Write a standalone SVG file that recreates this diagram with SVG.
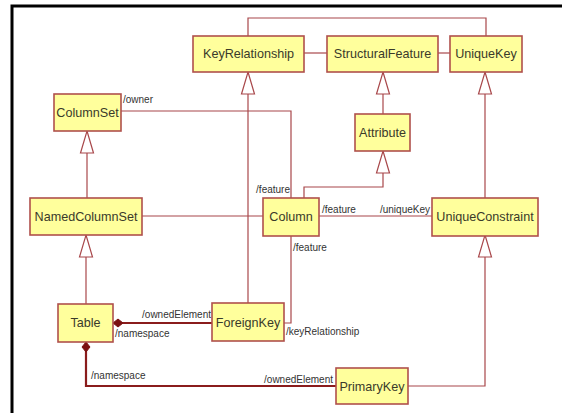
<svg xmlns="http://www.w3.org/2000/svg" width="562" height="413" viewBox="0 0 562 413">
  <style>
    .node rect { fill: #ffff9c; stroke: #b0504c; stroke-width: 1.6; }
    .node text { font-family: "Liberation Sans", Arial, sans-serif; font-size: 12.6px; fill: #3a3a2a; text-anchor: middle; }
    .conn { fill: none; stroke: #a8474a; stroke-width: 1.2; }
    .comp { fill: none; stroke: #8a1c1c; stroke-width: 2.2; }
    .gen { fill: #ffffff; stroke: #a8474a; stroke-width: 1.2; }
    .dia { fill: #7a1010; stroke: #7a1010; stroke-width: 1; }
    .lbl { font-family: "Liberation Sans", Arial, sans-serif; font-size: 10px; fill: #333333; }
  </style>
  <defs>
    <!-- hollow generalization head, tip at origin pointing up -->
    <path id="genHead" d="M0,0 L6.5,22 L-6.5,22 Z"/>
  </defs>

  <rect x="0" y="0" width="562" height="413" fill="#ffffff"/>
  <!-- frame -->
  <path d="M12,413 V6 H562" fill="none" stroke="#000000" stroke-width="3"/>

  <g id="connectors">
    <!-- associations -->
    <path class="conn" d="M248,36 V18 H486 V36"/>
    <path class="conn" d="M304,53 H327"/>
    <path class="conn" d="M438,53 H450"/>
    <path class="conn" d="M121,111 H291 V198"/>
    <path class="conn" d="M142,216 H263"/>
    <path class="conn" d="M319,216 H432"/>
    <path class="conn" d="M291,236 V323 H284"/>
    <!-- generalizations -->
    <path class="conn" d="M248,94 V303"/>
    <use href="#genHead" class="gen" x="248" y="72"/>
    <path class="conn" d="M383,94 V114"/>
    <use href="#genHead" class="gen" x="383" y="72"/>
    <path class="conn" d="M485,94 V198"/>
    <use href="#genHead" class="gen" x="485" y="72"/>
    <path class="conn" d="M304,198 V187 H383 V173"/>
    <use href="#genHead" class="gen" x="383" y="151"/>
    <path class="conn" d="M87,153 V198"/>
    <use href="#genHead" class="gen" x="87" y="131"/>
    <path class="conn" d="M86,257 V304"/>
    <use href="#genHead" class="gen" x="86" y="235"/>
    <path class="conn" d="M485,257 V386 H408"/>
    <use href="#genHead" class="gen" x="485" y="235"/>
    <!-- compositions -->
    <path class="comp" d="M122,323 H212"/>
    <path class="dia" d="M113,323 L118,319 L123,323 L118,327 Z"/>
    <path class="comp" d="M86,351 V386 H336"/>
    <path class="dia" d="M86,342 L90,347 L86,352 L82,347 Z"/>

    <!-- role names -->
    <text class="lbl" x="123" y="103">/owner</text>
    <text class="lbl" x="290" y="193" text-anchor="end">/feature</text>
    <text class="lbl" x="322" y="213">/feature</text>
    <text class="lbl" x="430" y="213" text-anchor="end">/uniqueKey</text>
    <text class="lbl" x="293" y="251">/feature</text>
    <text class="lbl" x="286" y="335">/keyRelationship</text>
    <text class="lbl" x="211" y="318" text-anchor="end">/ownedElement</text>
    <text class="lbl" x="115" y="337">/namespace</text>
    <text class="lbl" x="91" y="379">/namespace</text>
    <text class="lbl" x="333" y="383" text-anchor="end">/ownedElement</text>
  </g>

  <g id="KeyRelationship" class="node"><rect x="193" y="36" width="111" height="36"/><text x="248.5" y="58">KeyRelationship</text></g>
  <g id="StructuralFeature" class="node"><rect x="327" y="36" width="111" height="36"/><text x="382.5" y="58">StructuralFeature</text></g>
  <g id="UniqueKey" class="node"><rect x="450" y="36" width="72" height="36"/><text x="486" y="58">UniqueKey</text></g>
  <g id="ColumnSet" class="node"><rect x="54" y="94" width="67" height="37"/><text x="87.5" y="117">ColumnSet</text></g>
  <g id="Attribute" class="node"><rect x="355" y="114" width="55" height="37"/><text x="382.5" y="137">Attribute</text></g>
  <g id="NamedColumnSet" class="node"><rect x="30" y="198" width="112" height="37"/><text x="86" y="221">NamedColumnSet</text></g>
  <g id="Column" class="node"><rect x="263" y="198" width="56" height="38"/><text x="291" y="221">Column</text></g>
  <g id="UniqueConstraint" class="node"><rect x="432" y="198" width="106" height="38"/><text x="485" y="221">UniqueConstraint</text></g>
  <g id="Table" class="node"><rect x="58" y="304" width="55" height="38"/><text x="85.5" y="327">Table</text></g>
  <g id="ForeignKey" class="node"><rect x="212" y="303" width="72" height="38"/><text x="248" y="327">ForeignKey</text></g>
  <g id="PrimaryKey" class="node"><rect x="336" y="368" width="72" height="36"/><text x="372" y="391">PrimaryKey</text></g>
</svg>
